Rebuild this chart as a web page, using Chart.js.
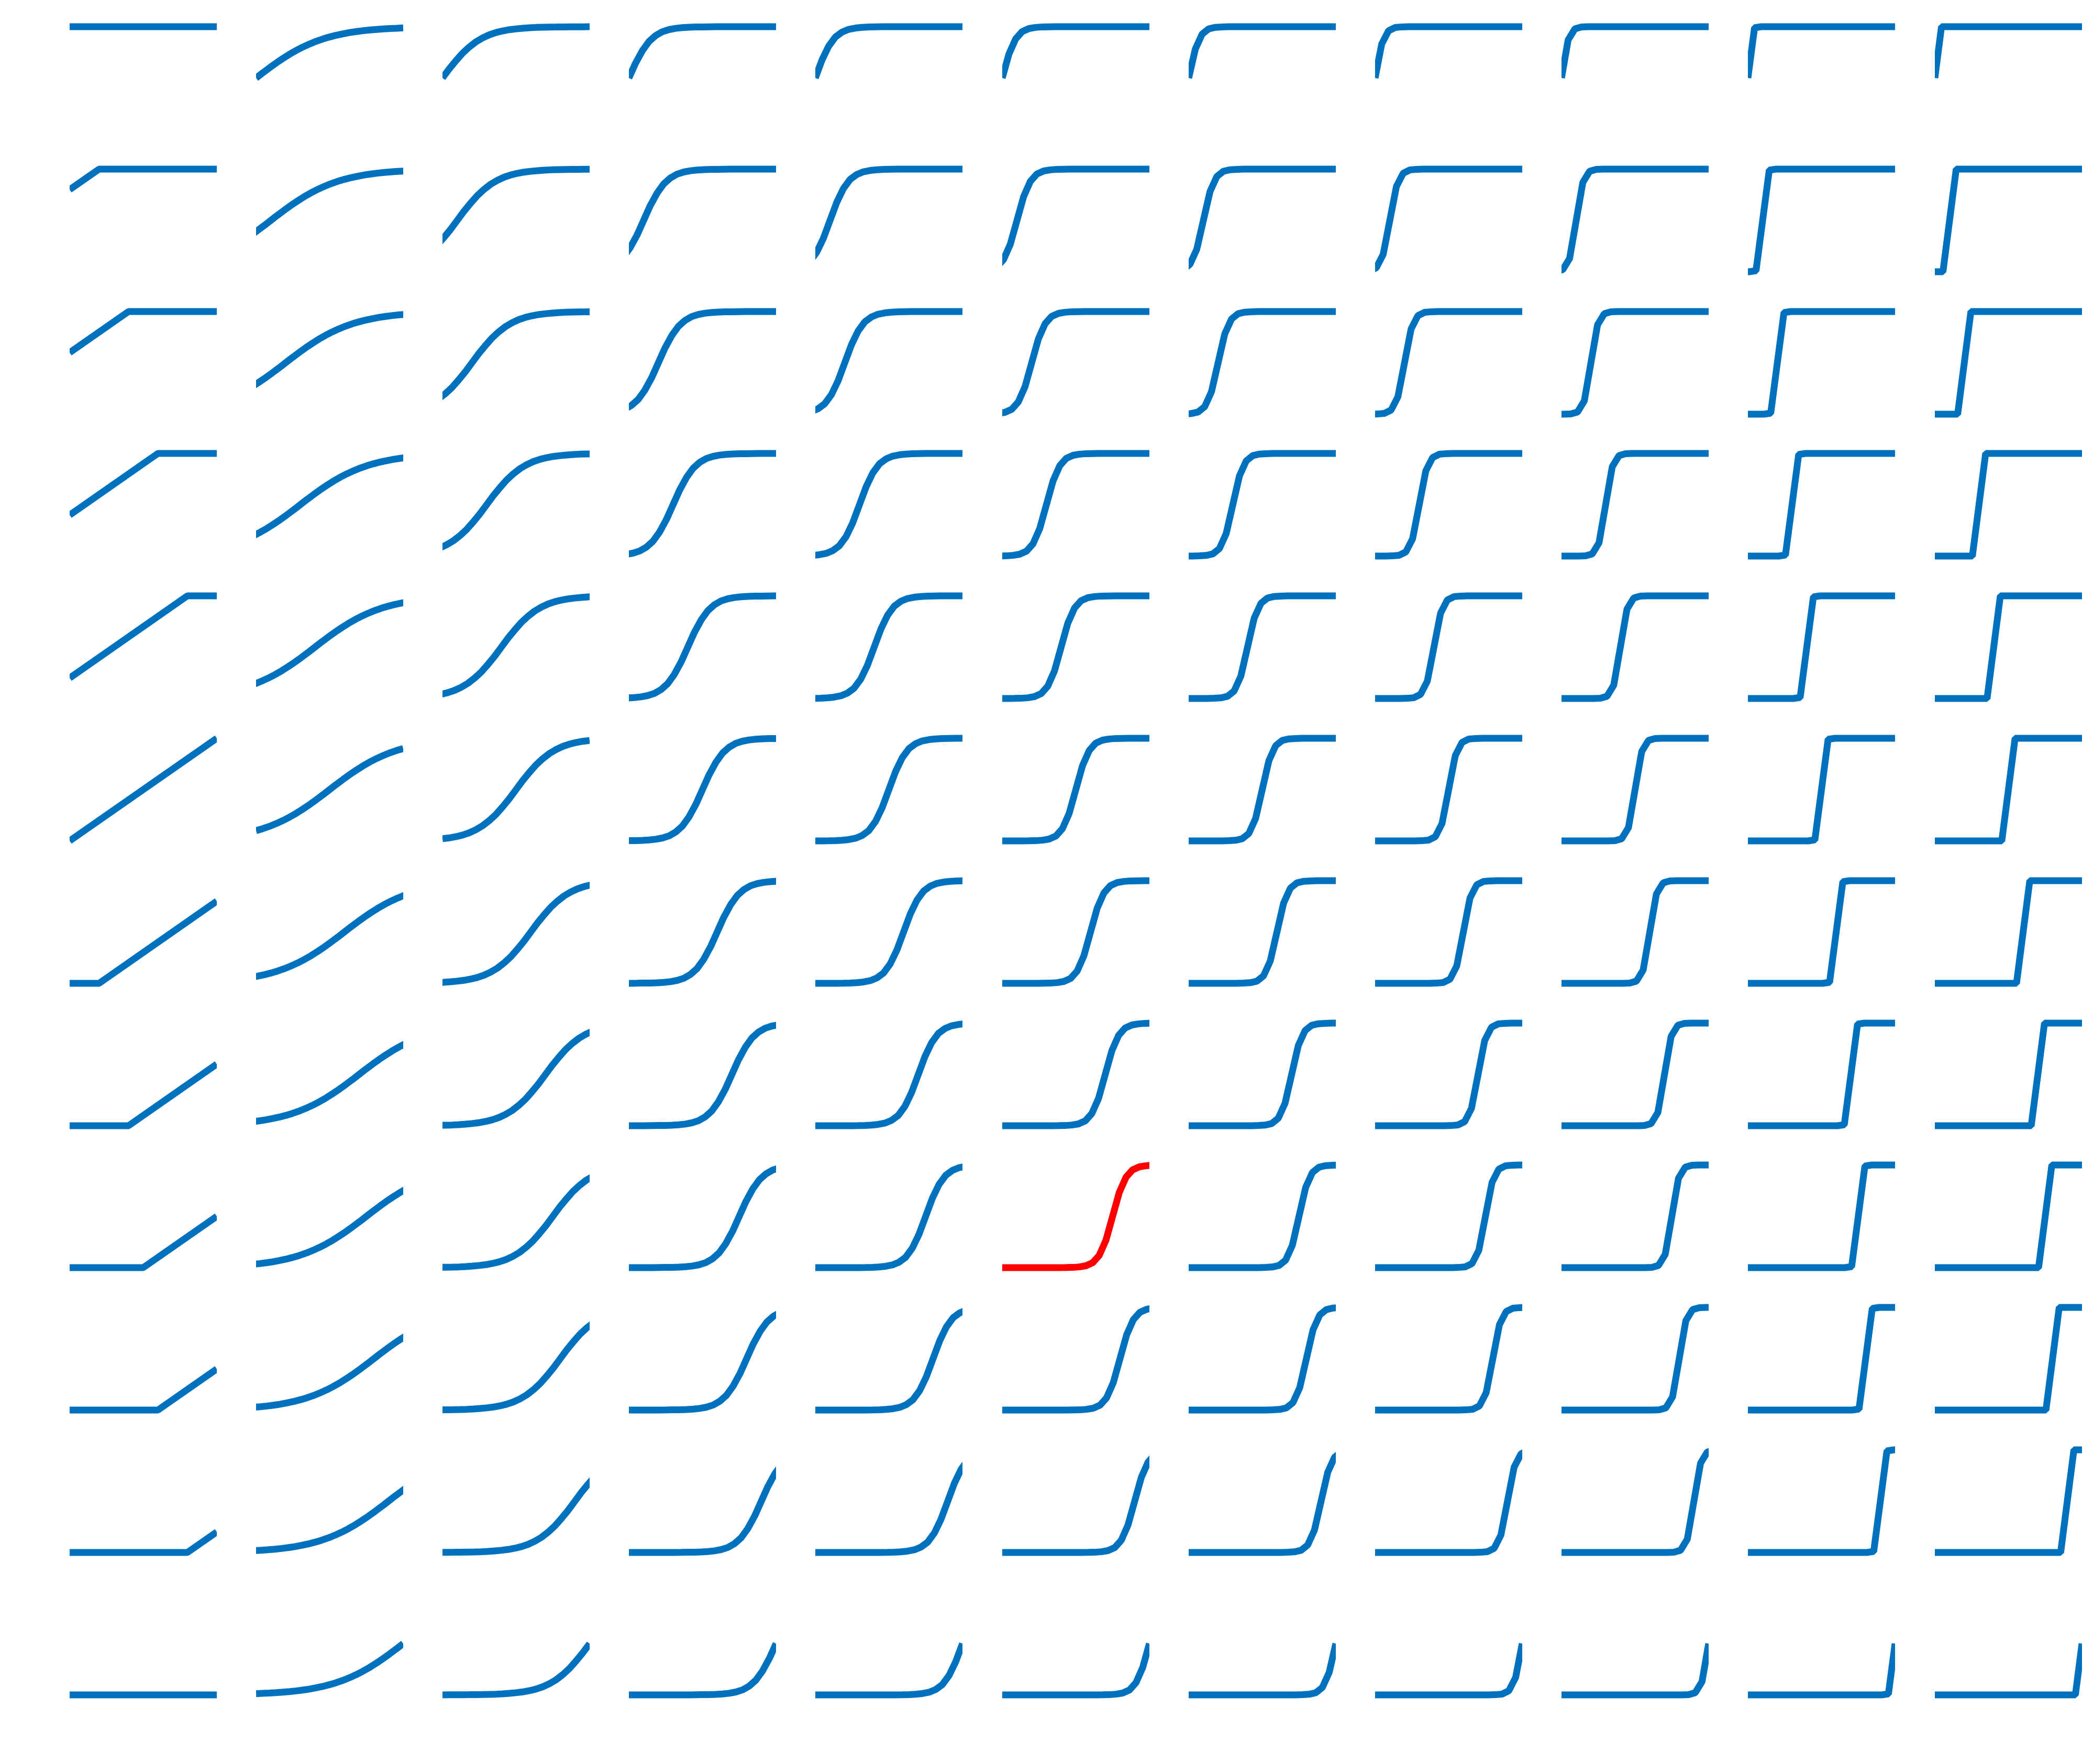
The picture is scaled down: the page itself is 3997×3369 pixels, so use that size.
<!DOCTYPE html>
<html>
<head>
<meta charset="utf-8">
<script src="https://cdn.jsdelivr.net/npm/chart.js@4.4.1/dist/chart.umd.min.js"></script>
<style>
  html, body { margin: 0; padding: 0; background: #ffffff; }
  #grid { position: relative; width: 3997px; height: 3369px; background: #ffffff; }
  #grid canvas { position: absolute; }
</style>
</head>
<body>
<div id="grid"></div>
<script>
// where the curve crosses 0.5, one per row
const rowCenters = [0, 0.1, 0.2, 0.3, 0.4, 0.5, 0.6, 0.7, 0.75, 0.8, 0.9, 1];

// offsets from the row center at which the curve profiles are read
const offsets = [-1, -0.955, -0.909, -0.864, -0.818, -0.773, -0.727, -0.682, -0.636, -0.591, -0.545,
  -0.5, -0.455, -0.409, -0.364, -0.318, -0.273, -0.227, -0.182, -0.136, -0.091, -0.045,
  0, 0.045, 0.091, 0.136, 0.182, 0.227, 0.273, 0.318, 0.364, 0.409, 0.455, 0.5,
  0.545, 0.591, 0.636, 0.682, 0.727, 0.773, 0.818, 0.864, 0.909, 0.955, 1];

// curve profile for columns 2..11 (gentle -> steep)
const profile1 = [0.012, 0.015, 0.018, 0.022, 0.027, 0.032, 0.039, 0.047, 0.057, 0.069, 0.083, 0.100, 0.119, 0.142, 0.168, 0.198, 0.231, 0.269, 0.310, 0.354, 0.401, 0.450,
  0.5, 0.550, 0.599, 0.646, 0.690, 0.731, 0.769, 0.802, 0.832, 0.858, 0.881, 0.900, 0.917, 0.931, 0.943, 0.953, 0.961, 0.968, 0.973, 0.978, 0.982, 0.985, 0.988];
const profile2 = [0, 0.001, 0.001, 0.001, 0.002, 0.003, 0.004, 0.005, 0.007, 0.010, 0.015, 0.021, 0.029, 0.041, 0.057, 0.079, 0.109, 0.148, 0.198, 0.259, 0.332, 0.413,
  0.5, 0.587, 0.668, 0.741, 0.802, 0.852, 0.891, 0.921, 0.943, 0.959, 0.971, 0.979, 0.985, 0.990, 0.993, 0.995, 0.996, 0.997, 0.998, 0.999, 0.999, 0.999, 1];
const profile3 = [0, 0, 0, 0, 0, 0, 0, 0, 0, 0, 0.001, 0.002, 0.003, 0.005, 0.009, 0.016, 0.028, 0.049, 0.086, 0.145, 0.235, 0.356,
  0.5, 0.644, 0.765, 0.855, 0.914, 0.951, 0.972, 0.984, 0.991, 0.995, 0.997, 0.998, 0.999, 1, 1, 1, 1, 1, 1, 1, 1, 1, 1];
const profile4 = [0, 0, 0, 0, 0, 0, 0, 0, 0, 0, 0, 0, 0, 0.001, 0.003, 0.006, 0.013, 0.026, 0.052, 0.101, 0.189, 0.326,
  0.5, 0.674, 0.811, 0.899, 0.948, 0.974, 0.987, 0.994, 0.997, 0.999, 1, 1, 1, 1, 1, 1, 1, 1, 1, 1, 1, 1, 1];
const profile5 = [0, 0, 0, 0, 0, 0, 0, 0, 0, 0, 0, 0, 0, 0, 0, 0.001, 0.002, 0.007, 0.018, 0.047, 0.119, 0.269,
  0.5, 0.731, 0.881, 0.953, 0.982, 0.993, 0.998, 0.999, 1, 1, 1, 1, 1, 1, 1, 1, 1, 1, 1, 1, 1, 1, 1];
const profile6 = [0, 0, 0, 0, 0, 0, 0, 0, 0, 0, 0, 0, 0, 0, 0, 0, 0, 0.002, 0.006, 0.021, 0.073, 0.219,
  0.5, 0.781, 0.927, 0.979, 0.994, 0.998, 1, 1, 1, 1, 1, 1, 1, 1, 1, 1, 1, 1, 1, 1, 1, 1, 1];
const profile7 = [0, 0, 0, 0, 0, 0, 0, 0, 0, 0, 0, 0, 0, 0, 0, 0, 0, 0, 0.002, 0.008, 0.040, 0.169,
  0.5, 0.831, 0.960, 0.992, 0.998, 1, 1, 1, 1, 1, 1, 1, 1, 1, 1, 1, 1, 1, 1, 1, 1, 1, 1];
const profile8 = [0, 0, 0, 0, 0, 0, 0, 0, 0, 0, 0, 0, 0, 0, 0, 0, 0, 0, 0, 0.003, 0.021, 0.129,
  0.5, 0.871, 0.979, 0.997, 1, 1, 1, 1, 1, 1, 1, 1, 1, 1, 1, 1, 1, 1, 1, 1, 1, 1, 1];
const profile9 = [0, 0, 0, 0, 0, 0, 0, 0, 0, 0, 0, 0, 0, 0, 0, 0, 0, 0, 0, 0, 0, 0.010,
  0.5, 0.990, 1, 1, 1, 1, 1, 1, 1, 1, 1, 1, 1, 1, 1, 1, 1, 1, 1, 1, 1, 1, 1, 1, 1];
const profile10 = [0, 0, 0, 0, 0, 0, 0, 0, 0, 0, 0, 0, 0, 0, 0, 0, 0, 0, 0, 0, 0, 0,
  0.5, 1, 1, 1, 1, 1, 1, 1, 1, 1, 1, 1, 1, 1, 1, 1, 1, 1, 1, 1, 1, 1, 1, 1, 1];
const profiles = [profile1, profile2, profile3, profile4, profile5, profile6, profile7, profile8, profile9, profile10];

// first column: straight ramps with their corner points, one per row
const rampX = [[0, 1], [0, 0.2, 1], [0, 0.4, 1], [0, 0.6, 1], [0, 0.8, 1], [0, 1],
  [0, 0.2, 1], [0, 0.4, 1], [0, 0.5, 1], [0, 0.6, 1], [0, 0.8, 1], [0, 1]];
const rampY = [[1, 1], [0.8, 1, 1], [0.6, 1, 1], [0.4, 1, 1], [0.2, 1, 1], [0, 1],
  [0, 0, 0.8], [0, 0, 0.6], [0, 0, 0.5], [0, 0, 0.4], [0, 0, 0.2], [0, 0]];

// the highlighted panel
const highlight = { row: 8, col: 5 };

const BLUE = '#0072BD';
const RED = '#FF0000';

// layout of the panels on the page
const PW = 281, PH = 196, PAD = 12;
const LEFT0 = 132.5, COL_STEP = 356.2;
const TOP0 = 51, ROW_STEP = 271.8;
const EPS = 1e-6;

const grid = document.getElementById('grid');

function panelData(r, c) {
  if (c === 0) {
    return rampX[r].map((x, i) => ({ x: x, y: rampY[r][i] }));
  }
  const prof = profiles[c - 1];
  const pts = offsets.map((d, i) => ({ x: rowCenters[r] + d, y: prof[i] }));
  // keep what lies in the panel, plus one point past an edge when no point sits on it
  const inside = pts.filter(p => p.x >= -EPS && p.x <= 1 + EPS);
  if (inside[0].x > EPS) {
    const before = pts.filter(p => p.x < 0);
    if (before.length) inside.unshift(before[before.length - 1]);
  }
  if (inside[inside.length - 1].x < 1 - EPS) {
    const after = pts.filter(p => p.x > 1);
    if (after.length) inside.push(after[0]);
  }
  return inside;
}

for (let r = 0; r < rowCenters.length; r++) {
  for (let c = 0; c <= profiles.length; c++) {
    const canvas = document.createElement('canvas');
    canvas.width = PW + 2 * PAD;
    canvas.height = PH + 2 * PAD;
    canvas.style.left = (LEFT0 + c * COL_STEP - PAD) + 'px';
    canvas.style.top = (TOP0 + r * ROW_STEP - PAD) + 'px';
    canvas.style.width = canvas.width + 'px';
    canvas.style.height = canvas.height + 'px';
    grid.appendChild(canvas);

    const isRed = r === highlight.row && c === highlight.col;

    new Chart(canvas, {
      type: 'line',
      data: {
        datasets: [{
          data: panelData(r, c),
          borderColor: isRed ? RED : BLUE,
          borderWidth: 13,
          borderJoinStyle: 'bevel',
          borderCapStyle: 'butt',
          pointRadius: 0,
          tension: 0,
          fill: false,
          clip: { left: 0, right: 0, top: PAD, bottom: PAD }
        }]
      },
      options: {
        responsive: false,
        animation: false,
        devicePixelRatio: 1,
        events: [],
        layout: { padding: PAD },
        scales: {
          x: { type: 'linear', min: 0, max: 1, display: false },
          y: { type: 'linear', min: 0, max: 1, display: false }
        },
        plugins: {
          legend: { display: false },
          tooltip: { enabled: false }
        }
      }
    });
  }
}
</script>
</body>
</html>
